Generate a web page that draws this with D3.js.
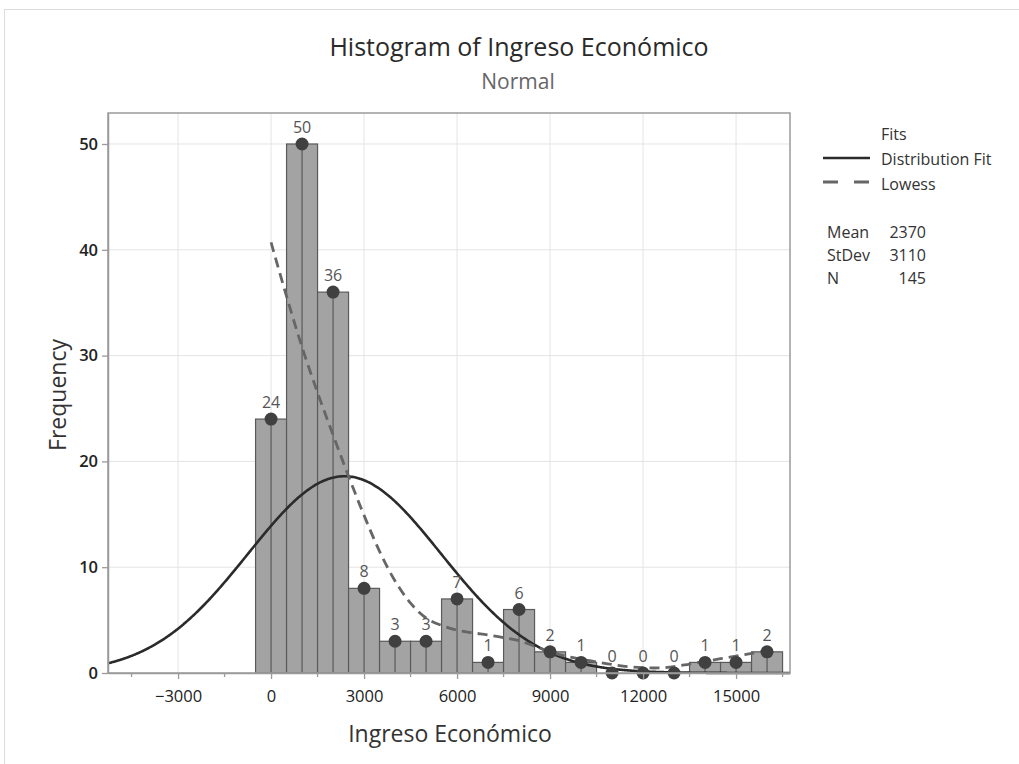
<!DOCTYPE html>
<html>
<head>
<meta charset="utf-8">
<script src="https://cdn.jsdelivr.net/npm/d3@7"></script>
<style>
  html, body { margin: 0; padding: 0; background: #fff; }
  svg { display: block; font-family: "Open Sans", "Noto Sans", sans-serif; }
</style>
</head>
<body>
<svg id="chart" width="1019" height="764"></svg>
<script>
// ---- data ----
const binCenters = [0, 1000, 2000, 3000, 4000, 5000, 6000, 7000, 8000, 9000, 10000, 11000, 12000, 13000, 14000, 15000, 16000];
const binCounts  = [24, 50, 36, 8, 3, 3, 7, 1, 6, 2, 1, 0, 0, 0, 1, 1, 2];
const binWidth = 1000;
const xMajorTicks = [-3000, 0, 3000, 6000, 9000, 12000, 15000];
const xMinorTicks = [-4500, -1500, 1500, 4500, 7500, 10500, 13500, 16500];
const yTicks = [0, 10, 20, 30, 40, 50];
const lowessX = [0, 500, 1000, 1500, 2000, 2500, 3000, 3500, 4000, 4500, 5000, 5500, 6000, 6500, 7000, 7500, 8000, 8500, 9000, 9500, 10000, 10500, 11000, 11500, 12000, 12500, 13000, 13500, 14000, 14500, 15000, 15500, 16000];
const lowessY = [40.7, 35.6, 30.8, 26.5, 22.5, 18.6, 14.9, 11.5, 8.7, 6.6, 5.2, 4.5, 4.05, 3.8, 3.6, 3.35, 3.05, 2.55, 2.0, 1.6, 1.3, 1.05, 0.8, 0.6, 0.5, 0.48, 0.6, 0.85, 1.1, 1.35, 1.6, 1.85, 2.1];
const statLabels = ["Mean", "StDev", "N"];
const statValues = [2370, 3110, 145];
const fitMean = 2370, fitStDev = 3110, fitN = 145;

// ---- layout ----
const svg = d3.select("#chart");
const L = 108, R = 790, T = 113, B = 673;
const x = d3.scaleLinear().domain([-5260, 16740]).range([L, R]);
const y = d3.scaleLinear().domain([0, 52.93]).range([B, T]);

// outer border
svg.append("rect").attr("x", 4.5).attr("y", 9.5).attr("width", 1030).attr("height", 780)
  .attr("fill", "none").attr("stroke", "#dcdcdc").attr("stroke-width", 1);

// gridlines
svg.append("g").selectAll("line").data(xMajorTicks).join("line")
  .attr("x1", d => x(d)).attr("x2", d => x(d)).attr("y1", T).attr("y2", B)
  .attr("stroke", "#e4e4e4").attr("stroke-width", 1);
svg.append("g").selectAll("line").data(yTicks.filter(d => d > 0)).join("line")
  .attr("x1", L).attr("x2", R).attr("y1", d => y(d)).attr("y2", d => y(d))
  .attr("stroke", "#e4e4e4").attr("stroke-width", 1);

// bars
const bars = binCenters.map((c, i) => ({c, n: binCounts[i]}));
const gb = svg.append("g");
gb.selectAll("rect").data(bars.filter(d => d.n > 0)).join("rect")
  .attr("x", d => x(d.c - binWidth / 2)).attr("width", d => x(d.c + binWidth / 2) - x(d.c - binWidth / 2))
  .attr("y", d => y(d.n)).attr("height", d => y(0) - y(d.n))
  .attr("fill", "#a3a3a3").attr("stroke", "#5a5a5a").attr("stroke-width", 1.2);
gb.selectAll("line").data(bars.filter(d => d.n > 0)).join("line")
  .attr("x1", d => x(d.c)).attr("x2", d => x(d.c)).attr("y1", d => y(d.n)).attr("y2", y(0))
  .attr("stroke", "#5a5a5a").attr("stroke-width", 1.2);

// normal fit curve (from the reported Mean / StDev / N)
const fitXs = d3.range(-5260, 16741, 40);
const dens = v => fitN * binWidth / (fitStDev * Math.sqrt(2 * Math.PI)) * Math.exp(-0.5 * ((v - fitMean) / fitStDev) ** 2);
svg.append("path").datum(fitXs)
  .attr("d", d3.line().x(d => x(d)).y(d => y(dens(d))).curve(d3.curveBasis))
  .attr("fill", "none").attr("stroke", "#2b2b2b").attr("stroke-width", 2.6);

// lowess curve
svg.append("path").datum(lowessX.map((v, i) => [v, lowessY[i]]))
  .attr("d", d3.line().x(d => x(d[0])).y(d => y(d[1])).curve(d3.curveCatmullRom))
  .attr("fill", "none").attr("stroke", "#666").attr("stroke-width", 2.8)
  .attr("stroke-dasharray", "10,6");

// dots and labels
svg.append("g").selectAll("circle").data(bars).join("circle")
  .attr("cx", d => x(d.c)).attr("cy", d => y(d.n)).attr("r", 6.5).attr("fill", "#404040");
svg.append("g").selectAll("text").data(bars).join("text")
  .attr("x", d => x(d.c)).attr("y", d => y(d.n) - 11).attr("text-anchor", "middle")
  .attr("font-size", 16).attr("fill", "#555").text(d => d.n);

// frame
svg.append("rect").attr("x", L).attr("y", T).attr("width", R - L).attr("height", B - T)
  .attr("fill", "none").attr("stroke", "#9a9a9a").attr("stroke-width", 1.5);

// x axis
const xAxis = svg.append("g").attr("transform", `translate(0,${B})`)
  .call(d3.axisBottom(x).tickValues(xMajorTicks).tickSize(6).tickSizeOuter(0).tickPadding(11).tickFormat(d3.format("d")));
xAxis.select(".domain").attr("stroke", "#9a9a9a").attr("stroke-width", 1.5);
xAxis.selectAll(".tick line").attr("stroke", "#9a9a9a").attr("stroke-width", 1.3);
xAxis.selectAll(".tick text").attr("font-size", 16.5).attr("fill", "#222").attr("font-family", "Open Sans, sans-serif");
svg.append("g").selectAll("line").data(xMinorTicks).join("line")
  .attr("x1", d => x(d)).attr("x2", d => x(d)).attr("y1", B).attr("y2", B + 4)
  .attr("stroke", "#9a9a9a").attr("stroke-width", 1.3);

// y axis
const yAxis = svg.append("g").attr("transform", `translate(${L},0)`)
  .call(d3.axisLeft(y).tickValues(yTicks).tickSize(6).tickSizeOuter(0).tickPadding(4));
yAxis.select(".domain").attr("stroke", "#9a9a9a").attr("stroke-width", 1.5);
yAxis.selectAll(".tick line").attr("stroke", "#9a9a9a").attr("stroke-width", 1.3);
yAxis.selectAll(".tick text").attr("font-size", 16.5).attr("fill", "#222").attr("font-weight", 600).attr("font-family", "Open Sans, sans-serif");

// titles
svg.append("text").attr("x", 519).attr("y", 56).attr("text-anchor", "middle")
  .attr("font-size", 25).attr("fill", "#2a2a2a").text("Histogram of Ingreso Económico");
svg.append("text").attr("x", 518).attr("y", 89).attr("text-anchor", "middle")
  .attr("font-size", 21).attr("fill", "#666").text("Normal");
svg.append("text").attr("x", 450).attr("y", 742).attr("text-anchor", "middle")
  .attr("font-size", 23).attr("fill", "#333").text("Ingreso Económico");
svg.append("text").attr("transform", "translate(66,395) rotate(-90)").attr("text-anchor", "middle")
  .attr("font-size", 23).attr("fill", "#333").attr("font-weight", 500).text("Frequency");

// legend
const lg = svg.append("g").attr("font-size", 16).attr("fill", "#333");
lg.append("text").attr("x", 881).attr("y", 140).text("Fits");
lg.append("line").attr("x1", 823).attr("x2", 870).attr("y1", 158).attr("y2", 158)
  .attr("stroke", "#2b2b2b").attr("stroke-width", 2.6);
lg.append("text").attr("x", 881).attr("y", 165).text("Distribution Fit");
lg.append("line").attr("x1", 823).attr("x2", 870).attr("y1", 182).attr("y2", 182)
  .attr("stroke", "#666").attr("stroke-width", 2.8).attr("stroke-dasharray", "15,16");
lg.append("text").attr("x", 881).attr("y", 190).text("Lowess");
statLabels.forEach((s, i) => {
  lg.append("text").attr("x", 827).attr("y", 238 + i * 23).text(s);
  lg.append("text").attr("x", 926).attr("y", 238 + i * 23).attr("text-anchor", "end").text(statValues[i]);
});
</script>
</body>
</html>
